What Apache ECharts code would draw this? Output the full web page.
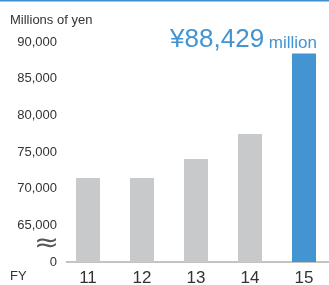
<!DOCTYPE html>
<html>
<head>
<meta charset="utf-8">
<script src="https://cdn.jsdelivr.net/npm/echarts@6/dist/echarts.min.js"></script>
<style>
  html, body { margin: 0; padding: 0; background: #fff; }
  #chart { width: 329px; height: 285px; }
</style>
</head>
<body>
<div id="chart"></div>
<script>
const years = ['11', '12', '13', '14', '15'];
const sales = [71450, 71450, 74050, 77450, 88429];
const yTicks = [60000, 65000, 70000, 75000, 80000, 85000, 90000];

const BLUE = '#4394d1';
const GRAY = '#c8c9cb';
const FONT = 'Liberation Sans';

const latest = sales[sales.length - 1];

const chart = echarts.init(document.getElementById('chart'));
chart.setOption({
  animation: false,
  textStyle: { fontFamily: FONT },
  title: {
    text: `{a|¥${latest.toLocaleString('en-US')}}{b| million}`,
    right: 7,
    top: 22,
    textStyle: {
      fontWeight: 'normal',
      rich: {
        a: { fontFamily: FONT, fontSize: 26, color: BLUE, fontWeight: 'normal' },
        b: { fontFamily: FONT, fontSize: 17, color: BLUE, fontWeight: 'normal', padding: [6, 0, 0, 0] },
      },
    },
  },
  grid: {
    top: 42,
    bottom: 23,
    left: 61,
    right: -2,
    outerBoundsMode: 'none',
    containLabel: false,
  },
  xAxis: {
    type: 'category',
    data: years,
    axisLine: { show: false },
    axisTick: { show: false },
    axisLabel: {
      color: '#333',
      fontSize: 17,
      margin: 8,
    },
  },
  yAxis: {
    type: 'value',
    min: yTicks[0],
    max: yTicks[yTicks.length - 1],
    interval: 5000,
    splitLine: { show: false },
    axisLine: { show: false },
    axisTick: { show: false },
    axisLabel: {
      color: '#333',
      fontSize: 13,
      margin: 4,
      formatter: (v) => (v === yTicks[0] ? '0' : v.toLocaleString('en-US')),
    },
  },
  series: {
    type: 'bar',
    barWidth: 24,
    data: sales.map((v, i) => ({
      value: v,
      itemStyle: { color: i === sales.length - 1 ? BLUE : GRAY },
    })),
  },
  graphic: [
    {
      type: 'rect',
      shape: { x: 0, y: 0, width: 329, height: 1.5 },
      style: { fill: '#3d8fd0' },
    },
    {
      type: 'line',
      shape: { x1: 66, y1: 262, x2: 329, y2: 262 },
      style: { stroke: '#888', lineWidth: 1.2 },
    },
    {
      type: 'text',
      left: 10,
      top: 14,
      style: { text: 'Millions of yen', font: `13px "${FONT}"`, fill: '#333' },
    },
    {
      type: 'text',
      left: 10,
      top: 270,
      style: { text: 'FY', font: `13px "${FONT}"`, fill: '#333' },
    },
    {
      type: 'text',
      left: 34,
      top: 231,
      scaleX: 1.15,
      style: { text: '≈', font: `26px "DejaVu Sans"`, fill: '#555' },
    },
  ],
});
</script>
</body>
</html>
